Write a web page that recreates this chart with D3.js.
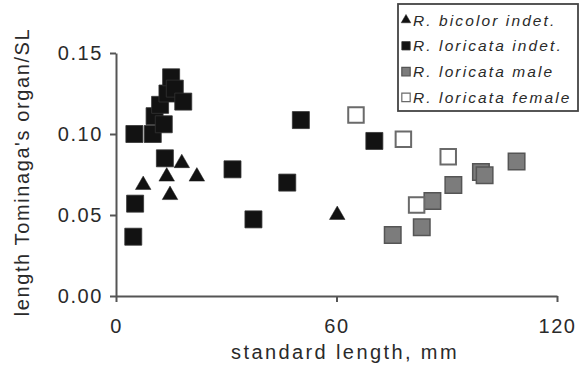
<!DOCTYPE html>
<html>
<head>
<meta charset="utf-8">
<script src="https://cdn.jsdelivr.net/npm/d3@7"></script>
<style>
  body { margin: 0; background: #fff; }
  text { font-family: "Liberation Sans", Arial, sans-serif; fill: #2a2a2a; }
</style>
</head>
<body>
<div id="chart"></div>
<script>
// standard length (mm), organ length / SL
var bicolorIndet = [
  [7.4, 0.0685], [13.8, 0.0737], [14.7, 0.0623], [17.9, 0.082], [22, 0.0737], [60.2, 0.050]
];
var loricataIndet = [
  [5, 0.100], [10, 0.100], [10.5, 0.111], [13, 0.106], [12, 0.118], [14, 0.125],
  [15, 0.135], [16, 0.128], [18.3, 0.120], [13.3, 0.085], [5.2, 0.057], [4.7, 0.0366],
  [31.7, 0.0782], [37.4, 0.0473], [46.6, 0.070], [50.3, 0.1086], [70.3, 0.0957]
];
var loricataMale = [
  [75.3, 0.0377], [83.2, 0.0424], [86.1, 0.0586], [91.8, 0.0685], [99.3, 0.0765],
  [100.3, 0.0745], [109, 0.083]
];
var loricataFemale = [
  [65.3, 0.1117], [78.2, 0.0967], [90.4, 0.086], [81.8, 0.0562]
];
var legendLabels = ["R. bicolor indet.", "R. loricata indet.", "R. loricata male", "R. loricata female"];
var xTicks = [0, 60, 120];
var yTicks = [0, 0.05, 0.10, 0.15];

var W = 587, H = 379;
var margin = { top: 53, right: 30, bottom: 83, left: 116 },
  width = W - margin.left - margin.right,
  height = H - margin.top - margin.bottom;

var svg = d3.select("#chart").append("svg")
  .attr("width", W).attr("height", H);
var g = svg.append("g")
  .attr("transform", "translate(" + margin.left + "," + margin.top + ")");

var x = d3.scaleLinear().domain([0, 120]).range([0, width]);
var y = d3.scaleLinear().domain([0, 0.15]).range([height, 0]);

// series styles
var series = [
  { data: bicolorIndet, type: d3.symbolTriangle, size: 105, fill: "#111", stroke: "#222", sw: 0.5 },
  { data: loricataIndet, type: d3.symbolSquare, size: 289, fill: "#121212", stroke: "#333", sw: 0.8 },
  { data: loricataMale, type: d3.symbolSquare, size: 272, fill: "#7c7c7c", stroke: "#555", sw: 1.5 },
  { data: loricataFemale, type: d3.symbolSquare, size: 240, fill: "#fff", stroke: "#6a6a6a", sw: 2 }
];

var xAxis = g.append("g")
  .attr("transform", "translate(0," + height + ")")
  .call(d3.axisBottom(x).tickValues(xTicks).tickSize(6).tickSizeOuter(0).tickPadding(17)
    .tickFormat(d3.format("d")));
var yAxis = g.append("g")
  .call(d3.axisLeft(y).tickValues(yTicks).tickSize(6).tickSizeOuter(0).tickPadding(7)
    .tickFormat(d3.format(".2f")));

[xAxis, yAxis].forEach(function (a) {
  a.selectAll("path, line").attr("stroke", "#555").attr("stroke-width", 2);
  a.selectAll("text").style("font-size", "20px").style("font-family", "'Liberation Sans', Arial, sans-serif")
    .style("letter-spacing", "1.6px")
    .attr("fill", "#2a2a2a");
});

series.forEach(function (s) {
  g.append("g").selectAll("path")
    .data(s.data)
    .enter().append("path")
    .attr("transform", function (d) { return "translate(" + x(d[0]) + "," + y(d[1]) + ")"; })
    .attr("d", d3.symbol().type(s.type).size(s.size))
    .attr("fill", s.fill)
    .attr("stroke", s.stroke)
    .attr("stroke-width", s.sw);
});

// axis titles
svg.append("text")
  .attr("x", 345)
  .attr("y", 359)
  .attr("text-anchor", "middle")
  .style("font-size", "20px")
  .style("letter-spacing", "2.4px")
  .text("standard length, mm");

svg.append("text")
  .attr("transform", "translate(29," + 172 + ") rotate(-90)")
  .attr("text-anchor", "middle")
  .style("font-size", "20px")
  .style("letter-spacing", "1.6px")
  .text("length Tominaga's organ/SL");

// legend
var legend = svg.append("g").attr("transform", "translate(398,4)");
legend.append("rect")
  .attr("width", 180).attr("height", 107)
  .attr("fill", "#fff").attr("stroke", "#444").attr("stroke-width", 1.8);
var rowH = 25.8;
series.forEach(function (s, i) {
  var row = legend.append("g").attr("transform", "translate(0," + (16 + i * rowH) + ")");
  row.append("path")
    .attr("transform", "translate(8,0)")
    .attr("d", d3.symbol().type(s.type).size(s.type === d3.symbolTriangle ? 40 : 70))
    .attr("fill", s.fill)
    .attr("stroke", s.stroke)
    .attr("stroke-width", Math.min(s.sw, 1.2));
  row.append("text")
    .attr("x", 15).attr("y", 5.5)
    .style("font-size", "15.5px")
    .style("font-style", "italic")
    .style("letter-spacing", "2.1px")
    .text(legendLabels[i]);
});
</script>
</body>
</html>
